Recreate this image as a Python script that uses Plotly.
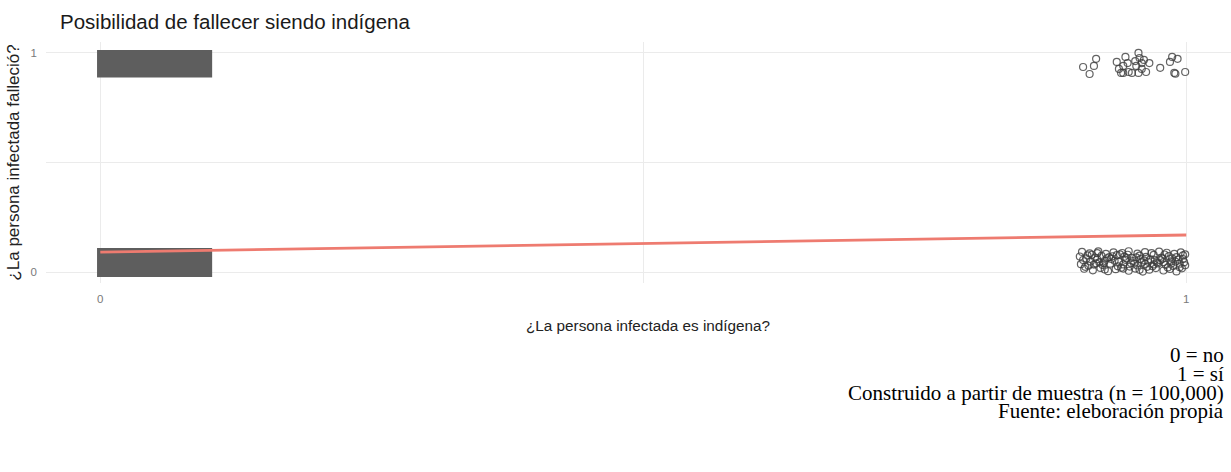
import plotly.graph_objects as go

# ---- data ----
x_ticks = [0, 0.5, 1]
x_tick_text = ["0", "", "1"]
y_ticks = [0, 0.5, 1]
y_tick_text = ["0", "", "1"]

# Dense jitter blocks for indigena = 0 (thousands of overlapping points -> solid extents,
# measured at the outer edge of the markers)
block0_x_extent = [-0.003, 0.103]
block0_dead_y_extent = [0.888, 1.014]
block0_alive_y_extent = [-0.023, 0.110]

# Jittered points for indigena = 1, fallecio = 1
ind1_dead_x = [0.905, 0.911, 0.915, 0.917, 0.936, 0.938, 0.940, 0.942, 0.944, 0.946,
               0.947, 0.950, 0.953, 0.954, 0.956, 0.957, 0.959, 0.959, 0.961, 0.963,
               0.966, 0.976, 0.985, 0.987, 0.992, 0.989, 0.999, 0.956, 0.942, 0.990]
ind1_dead_y = [0.936, 0.904, 0.941, 0.973, 0.959, 0.927, 0.909, 0.941, 0.982, 0.954,
               0.913, 0.909, 0.963, 0.941, 1.000, 0.977, 0.954, 0.927, 0.968, 0.913,
               0.954, 0.932, 0.959, 0.982, 0.973, 0.909, 0.913, 0.909, 0.909, 0.905]

# Jittered points for indigena = 1, fallecio = 0
ind1_alive_x = [0.904, 0.911, 0.919, 0.926, 0.933, 0.941, 0.947, 0.955, 0.962, 0.968,
                0.975, 0.982, 0.989, 0.995, 0.999,
                0.902, 0.909, 0.916, 0.922, 0.929, 0.936, 0.943, 0.950, 0.957, 0.963,
                0.970, 0.977, 0.984, 0.991, 0.997, 0.913, 0.946, 0.980,
                0.905, 0.912, 0.918, 0.925, 0.931, 0.938, 0.944, 0.951, 0.958, 0.965,
                0.971, 0.978, 0.986, 0.993, 0.998, 0.934, 0.961,
                0.903, 0.910, 0.917, 0.923, 0.930, 0.937, 0.942, 0.949, 0.955, 0.962,
                0.969, 0.974, 0.981, 0.988, 0.994, 0.999,
                0.906, 0.914, 0.921, 0.928, 0.935, 0.940, 0.947, 0.953, 0.960, 0.966,
                0.972, 0.979, 0.985, 0.991, 0.996, 0.925, 0.957, 0.983,
                0.908, 0.920, 0.932, 0.945, 0.952, 0.967, 0.973, 0.987, 0.994,
                0.915, 0.927, 0.939, 0.959, 0.964, 0.976, 0.990, 0.907, 0.924,
                0.948, 0.970, 0.986, 0.918, 0.942, 0.954, 0.979, 0.997]
ind1_alive_y = [0.092, 0.085, 0.094, 0.083, 0.090, 0.087, 0.095, 0.084, 0.091, 0.086,
                0.093, 0.088, 0.083, 0.090, 0.081,
                0.071, 0.076, 0.066, 0.074, 0.068, 0.077, 0.070, 0.065, 0.075, 0.069,
                0.078, 0.066, 0.073, 0.068, 0.076, 0.079, 0.079, 0.080,
                0.055, 0.048, 0.058, 0.051, 0.060, 0.046, 0.056, 0.050, 0.059, 0.047,
                0.054, 0.061, 0.049, 0.057, 0.045, 0.052, 0.053,
                0.036, 0.029, 0.040, 0.032, 0.038, 0.026, 0.035, 0.041, 0.030, 0.037,
                0.027, 0.039, 0.033, 0.028, 0.038, 0.031,
                0.015, 0.008, 0.019, 0.004, 0.013, 0.020, 0.006, 0.016, 0.002, 0.011,
                0.018, 0.007, 0.014, 0.003, 0.017, 0.012, 0.010, 0.021,
                0.062, 0.044, 0.072, 0.063, 0.039, 0.058, 0.043, 0.062, 0.022,
                0.034, 0.063, 0.081, 0.044, 0.024, 0.054, 0.048, 0.024, 0.040,
                0.025, 0.035, 0.038, 0.086, 0.016, 0.067, 0.045, 0.059]

# Fitted regression line
fit_x = [0, 1]
fit_y = [0.091, 0.169]

title_text = "Posibilidad de fallecer siendo indígena"
x_title = "¿La persona infectada es indígena?"
y_title = "¿La persona infectada falleció?"
caption_lines = ["0 = no", "1 = sí", "Construido a partir de muestra (n = 100,000)",
                 "Fuente: eleboración propia"]

# ---- figure ----
block_color = "#5e5e5e"
pt_color = "rgba(60,60,60,0.8)"

fig = go.Figure()

def block_trace(xe, ye):
    xs = [xe[0], xe[1], xe[1], xe[0], xe[0]]
    ys = [ye[0], ye[0], ye[1], ye[1], ye[0]]
    return go.Scatter(x=xs, y=ys, mode="lines", fill="toself", fillcolor=block_color,
                      line=dict(color=block_color, width=0), hoverinfo="skip",
                      showlegend=False)

fig.add_trace(block_trace(block0_x_extent, block0_dead_y_extent))
fig.add_trace(block_trace(block0_x_extent, block0_alive_y_extent))

marker = dict(symbol="circle-open", size=7, color=pt_color, line=dict(width=1.2, color=pt_color))
fig.add_trace(go.Scatter(x=ind1_alive_x, y=ind1_alive_y, mode="markers",
                         marker=marker, showlegend=False))
fig.add_trace(go.Scatter(x=ind1_dead_x, y=ind1_dead_y, mode="markers",
                         marker=marker, showlegend=False))

fig.add_trace(go.Scatter(x=fit_x, y=fit_y, mode="lines",
                         line=dict(color="#EE7B70", width=2.8), showlegend=False))

fig.update_layout(
    width=1231, height=472,
    margin=dict(l=46, r=0, t=42, b=189),
    paper_bgcolor="white", plot_bgcolor="white",
    font=dict(family="Liberation Sans, Arial, sans-serif", color="#222"),
    title=dict(text=title_text, xref="container", yref="container",
               x=60 / 1231, xanchor="left", y=1 - 22 / 472, yanchor="middle",
               font=dict(size=20.5, color="#1a1a1a")),
    xaxis=dict(range=[-0.05, 1.0412], tickvals=x_ticks, ticktext=x_tick_text,
               showgrid=True, gridcolor="#EBEBEB", gridwidth=1, zeroline=False,
               showline=False, ticks="", tickfont=dict(size=11.5, color="#7a7a7a"),
               ticklabelstandoff=7),
    yaxis=dict(range=[-0.05, 1.05], tickvals=y_ticks, ticktext=y_tick_text,
               showgrid=True, gridcolor="#EBEBEB", gridwidth=1, zeroline=False,
               showline=False, ticks="", tickfont=dict(size=11.5, color="#7a7a7a"),
               ticklabelstandoff=8,
               title=dict(text=y_title, font=dict(size=17, color="#222"), standoff=6)),
)

# x-axis title (the original panel continues past the cropped right edge, so its
# title sits slightly right of the visible panel centre)
fig.add_annotation(text=x_title, xref="paper", yref="paper",
                   x=(648 - 46) / 1185, xanchor="center",
                   y=1 - (325 - 42) / 241, yanchor="middle", showarrow=False,
                   font=dict(size=15.3, color="#222"))

caption_y = [355, 374, 392.5, 411]
for txt, yy in zip(caption_lines, caption_y):
    fig.add_annotation(text=txt, xref="paper", yref="paper",
                       x=(1225 - 46) / 1185, xanchor="right",
                       y=1 - (yy - 42) / 241,
                       yanchor="middle", showarrow=False, borderpad=0,
                       font=dict(family="Liberation Serif, Times New Roman, serif",
                                 size=21, color="black"))

fig.write_html("out.html")
